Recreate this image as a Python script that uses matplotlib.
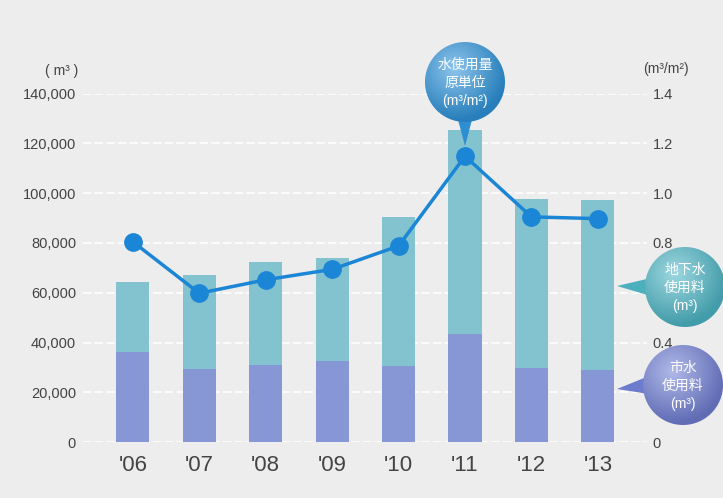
import numpy as np
import matplotlib.pyplot as plt
from matplotlib.patches import Circle, Polygon
from matplotlib.colors import to_rgb

plt.rcParams['font.family'] = ['Liberation Sans', 'Noto Sans CJK JP', 'DejaVu Sans']

years = ["'06", "'07", "'08", "'09", "'10", "'11", "'12", "'13"]
city_water = [36100, 29200, 30800, 32700, 30400, 43300, 29800, 29100]
ground_water = [28100, 37900, 41600, 41200, 60100, 82000, 67900, 68000]
intensity = [0.805, 0.598, 0.652, 0.694, 0.788, 1.149, 0.905, 0.898]

left_ticks = [0, 20000, 40000, 60000, 80000, 100000, 120000, 140000]
left_labels = ['0', '20,000', '40,000', '60,000', '80,000', '100,000', '120,000', '140,000']
right_ticks = [0, 0.2, 0.4, 0.6, 0.8, 1.0, 1.2, 1.4]
right_labels = ['0', '', '0.4', '', '0.8', '1.0', '1.2', '1.4']

bg = '#ededed'
c_city = '#8796d4'
c_ground = '#82c3cf'
c_line = '#1c86d6'
txt = '#444444'

W, H = 723, 498
fig = plt.figure(figsize=(W / 100, H / 100), dpi=100, facecolor=bg)
ax = fig.add_axes([83 / W, 1 - 442 / H, (647 - 83) / W, (442 - 93.75) / H])
ax.set_facecolor(bg)
x = np.arange(len(years))

ax.bar(x, city_water, width=0.5, color=c_city, zorder=2)
ax.bar(x, ground_water, width=0.5, bottom=city_water, color=c_ground, zorder=2)
ax.set_xlim(-0.75, 7.74)
ax.set_ylim(0, 140000)
ax.set_yticks(left_ticks)
ax.set_yticklabels(left_labels)
ax.set_xticks(x)
ax.set_xticklabels(years)
ax.tick_params(axis='y', length=0, pad=5, labelsize=10.5, labelcolor=txt)
ax.tick_params(axis='x', length=0, pad=9, labelsize=16, labelcolor=txt)
ax.grid(axis='y', color='white', linestyle=(0, (5, 2)), linewidth=1.2, zorder=1)
ax.set_axisbelow(True)
for s in ax.spines.values():
    s.set_visible(False)

ax2 = ax.twinx()
ax2.set_ylim(0, 1.4)
ax2.set_yticks(right_ticks)
ax2.set_yticklabels(right_labels)
ax2.tick_params(axis='y', length=0, pad=4, labelsize=10.5, labelcolor=txt)
for s in ax2.spines.values():
    s.set_visible(False)
ax2.plot(x, intensity, color=c_line, linewidth=2.5, marker='o', markersize=12.5, zorder=3)

# overlay in pixel coordinates for units and bubbles
ov = fig.add_axes([0, 0, 1, 1], zorder=10)
ov.set_xlim(0, W)
ov.set_ylim(H, 0)
ov.axis('off')
ov.patch.set_alpha(0)

ov.text(62, 71, '( m³ )', ha='center', va='center', fontsize=10, color=txt)
ov.text(666, 69, '(m³/m²)', ha='center', va='center', fontsize=10, color=txt)


def bubble(cx, cy, r, color, tip, lines):
    base = np.array(to_rgb(color))
    # pointer
    if tip[1] > cy + r:
        pts = [(cx - 8, cy + r - 6), (cx + 8, cy + r - 6), tip]
    else:
        pts = [(cx - r + 6, cy - 9), (cx - r + 6, cy + 9), tip]
    ov.add_patch(Polygon(pts, closed=True, facecolor=base * 0.95, edgecolor='none', zorder=1))
    n = 120
    gx, gy = np.meshgrid(np.linspace(-1, 1, n), np.linspace(-1, 1, n))
    d = np.sqrt((gx + 0.25) ** 2 + (gy + 0.35) ** 2)
    t = np.clip(d / 1.3, 0, 1)[..., None]
    img = (1 - t) * (0.55 * base + 0.45) + t * (base * 0.85)
    im = ov.imshow(img, extent=(cx - r, cx + r, cy + r, cy - r), zorder=2, interpolation='bilinear')
    circ = Circle((cx, cy), r, transform=ov.transData, facecolor='none', edgecolor='none')
    ov.add_patch(circ)
    im.set_clip_path(circ)
    ov.text(cx, cy + 1, lines, ha='center', va='center', fontsize=10, color='white',
            linespacing=1.35, zorder=3)


bubble(465, 82, 40, '#2f95dc', (465, 146), '水使用量\n原単位\n(m³/m²)')
bubble(685, 287, 40, '#4fb8c8', (617, 286), '地下水\n使用料\n(m³)')
bubble(683, 385, 40, '#7281d6', (617, 389), '市水\n使用料\n(m³)')
ov.set_xlim(0, W)
ov.set_ylim(H, 0)

fig.savefig('out.png', dpi=100, facecolor=bg)
